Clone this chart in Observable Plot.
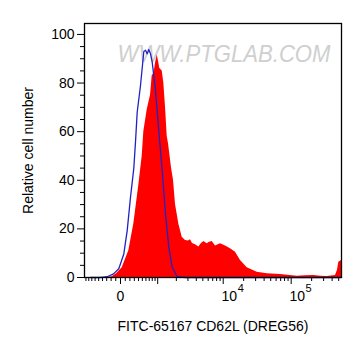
<!DOCTYPE html>
<html>
<head>
<meta charset="utf-8">
<script src="https://cdn.jsdelivr.net/npm/d3@7"></script>
<script src="https://cdn.jsdelivr.net/npm/@observablehq/plot@0.6"></script>
<style>
  html, body { margin: 0; padding: 0; background: #fff; }
  #chart { width: 361px; height: 358px; }
</style>
</head>
<body>
<div id="chart"></div>
<script>
// Isotype control (blue line): fluorescence value, relative cell number
const controlX = [-742, -451, -287, -148, -36, 69, 141, 213, 288, 328, 368, 451, 540, 588, 638, 687, 742, 798, 916, 1046, 1193, 1351, 1526, 1726, 2063, 2758, 531480];
const controlY = [0, 0, 0.3, 1.5, 3.6, 9.7, 19.3, 33, 45, 56, 68, 79, 93, 93.5, 92, 93.8, 92, 88.6, 77, 60, 44, 26, 12.5, 4.2, 0.3, 0, 0];

// CD62L stained sample (red filled)
const sampleX = [-327, -176, -84, 36, 176, 288, 408, 496, 540, 638, 742, 798, 861, 916, 981, 1034, 1088, 1193, 1268, 1351, 1439, 1509, 1683, 1808, 1942, 2182, 2458, 2758, 3059, 3276, 3510, 3894, 4357, 4777, 5173, 5803, 6279, 6885, 7700, 9122, 10809, 12805, 15178, 17978, 22551, 31642, 44403, 69650, 122673, 162534, 215249, 270251, 338788, 448668, 479939, 501569, 549773];
const sampleY = [0, 0.3, 1.5, 4, 11, 22, 38, 50, 60, 69, 75, 83, 84, 88, 91.5, 89, 86, 85, 80, 70, 58, 55, 45, 40, 30, 22, 16.6, 15.2, 15, 15.5, 14, 13.5, 12.5, 14, 14.8, 13.9, 14.5, 14.8, 13, 13.9, 13, 11.8, 10.4, 7, 4, 2.2, 1.5, 1.2, 0.5, 0.7, 0.8, 0.5, 0.4, 0.8, 3, 6.3, 7];

// Axes
const xDomainRaw = [-955, 549773];
const xMajorTicks = [0, 1000, 10000, 100000];
const xMinorTicks = [-900, -800, -700, -600, -500, -400, -300, -200, -100, 100, 200, 300, 400, 500, 600, 700, 800, 900,
  2000, 3000, 4000, 5000, 6000, 7000, 8000, 9000, 20000, 30000, 40000, 50000, 60000, 70000, 80000, 90000,
  200000, 300000, 400000, 500000];
const xZeroLabel = ["0"];
const xPowerValues = [10000, 100000];
const xPowerBase = ["10", "10"];
const xPowerExp = ["4", "5"];
const yMajorTicks = [0, 20, 40, 60, 80, 100];
const yMinorTicks = [5, 10, 15, 25, 30, 35, 45, 50, 55, 65, 70, 75, 85, 90, 95];
const xTitle = "FITC-65167 CD62L (DREG56)";
const yTitle = "Relative cell number";
const watermark = "WWW.PTGLAB.COM";

// biexponential-like display transform
const tf = v => Math.asinh(v / 618);

const control = controlX.map((x, i) => ({x: tf(x), y: controlY[i]}));
const sample = sampleX.map((x, i) => ({x: tf(x), y: sampleY[i]}));

const font = "'Liberation Sans', Arial, sans-serif";

const chart = Plot.plot({
  width: 361,
  height: 358,
  marginLeft: 84,
  marginRight: 20,
  marginTop: 23,
  marginBottom: 81,
  style: {fontFamily: font, fontSize: "14px", color: "black", background: "white"},
  x: {type: "linear", domain: xDomainRaw.map(tf), axis: null},
  y: {domain: [0, 104.5], axis: null},
  marks: [
    Plot.text([watermark], {frameAnchor: "top", dy: 21, dx: 11, fontSize: 24, fontStyle: "italic", fill: "#cfcfcf", fontFamily: font}),
    Plot.areaY(sample, {x: "x", y: "y", fill: "#ff0000", curve: "linear"}),
    Plot.lineY(control, {x: "x", y: "y", stroke: "#2222c4", strokeWidth: 1.3, curve: "linear"}),
    Plot.frame({stroke: "black", strokeWidth: 1.3}),
    Plot.axisY({ticks: yMajorTicks, tickSize: 7, tickPadding: 3, tickWidth: 1.6, label: null, fontSize: 14}),
    Plot.axisY({ticks: yMinorTicks, tickSize: 4, tickFormat: () => "", label: null}),
    Plot.axisX({ticks: xMajorTicks.map(tf), tickSize: 7, tickWidth: 1.6, tickFormat: () => "", label: null}),
    Plot.axisX({ticks: xMinorTicks.map(tf), tickSize: 4, tickFormat: () => "", label: null}),
    Plot.text(xZeroLabel, {x: [tf(0)], text: d => d, frameAnchor: "bottom", dy: 23, fontSize: 14}),
    Plot.text(xPowerBase, {x: xPowerValues.map(tf), text: d => d, frameAnchor: "bottom", dy: 23, dx: 6, fontSize: 14}),
    Plot.text(xPowerExp, {x: xPowerValues.map(tf), text: d => d, frameAnchor: "bottom", dy: 14, dx: 17.5, fontSize: 11}),
    Plot.text([xTitle], {frameAnchor: "bottom", dy: 53, fontSize: 14}),
    Plot.text([yTitle], {frameAnchor: "left", dx: -56, rotate: -90, textAnchor: "middle", fontSize: 14})
  ]
});

document.getElementById("chart").appendChild(chart);

// stretch watermark to its width in the reference
d3.select(chart).selectAll("text").filter(function() { return this.textContent === watermark; })
  .attr("textLength", 213).attr("lengthAdjust", "spacingAndGlyphs");
</script>
</body>
</html>
